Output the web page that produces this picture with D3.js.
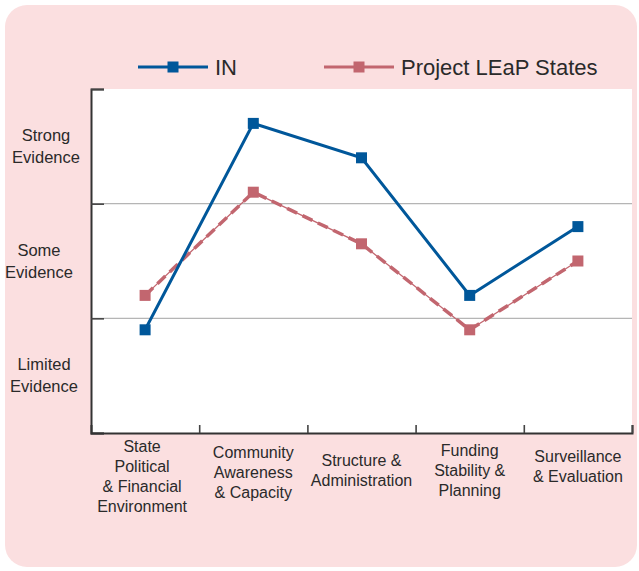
<!DOCTYPE html>
<html><head><meta charset="utf-8">
<script src="https://cdn.jsdelivr.net/npm/d3@7"></script>
<style>
html,body{margin:0;padding:0;background:#fff;}
svg text{font-family:"Liberation Sans",Arial,sans-serif;fill:#2a2a2a;}
</style></head>
<body><svg id="c" width="639" height="571"></svg>
<script>
// ---- data ----
const categories = ["State\nPolitical\n& Financial\nEnvironment","Community\nAwareness\n& Capacity","Structure &\nAdministration","Funding\nStability &\nPlanning","Surveillance\n& Evaluation"];
const inValues = [0.90, 2.70, 2.40, 1.20, 1.80];
const leapValues = [1.20, 2.10, 1.65, 0.90, 1.50];
const seriesNames = ["IN", "Project LEaP States"];
const yTickLabels = ["Limited\nEvidence", "Some\nEvidence", "Strong\nEvidence"];

// ---- layout ----
const svg = d3.select("#c");
const L = 91, R = 632, T = 89, B = 433;
const blue = "#00579a", pink = "#c2666f";

svg.append("rect").attr("x",5).attr("y",5).attr("width",632).attr("height",562)
  .attr("rx",22).attr("fill","#fbdfe0");
svg.append("rect").attr("x",L).attr("y",T).attr("width",R-L).attr("height",B-T).attr("fill","#fff");

const y = d3.scaleLinear().domain([0,3]).range([B,T]);
const x = d3.scaleBand().domain(categories).range([L,R]);
const xb = d3.scaleLinear().domain([0,categories.length]).range([L,R]);

// gridlines
svg.append("g").selectAll("line").data([1,2]).join("line")
  .attr("x1",L).attr("x2",R).attr("y1",d=>y(d)).attr("y2",d=>y(d))
  .attr("stroke","#b5b5b5").attr("stroke-width",1.2);

// axes
const ya = svg.append("g").attr("transform",`translate(${L},0)`)
  .call(d3.axisLeft(y).tickValues([0,1,2,3]).tickSize(-13).tickFormat(""));
const xa = svg.append("g").attr("transform",`translate(0,${B})`)
  .call(d3.axisBottom(xb).tickValues(d3.range(1,categories.length+1)).tickSize(-8).tickFormat(""));
[ya,xa].forEach(g=>{
  g.selectAll("path").attr("stroke","#333").attr("stroke-width",2);
  g.selectAll("line").attr("stroke","#444").attr("stroke-width",1.6);
});

// y labels
const yLabelX = [44, 39, 46];
yTickLabels.forEach((t,i)=>{
  const lines = t.split("\n");
  const cy = y(i+0.5);
  const tx = svg.append("text").attr("text-anchor","middle").attr("font-size",16.5);
  lines.forEach((ln,j)=>{
    tx.append("tspan").attr("x",yLabelX[i]).attr("y",cy + (j-(lines.length-1)/2)*22 + 5.5).text(ln);
  });
});

// x labels
categories.forEach((c,i)=>{
  const lines = c.split("\n");
  const cx = x(c)+x.bandwidth()/2;
  const tx = svg.append("text").attr("text-anchor","middle").attr("font-size",16);
  const cyMid = [476.7, 472.7, 470.7, 470.7, 466.7][i];
  lines.forEach((ln,j)=>{
    tx.append("tspan").attr("x",cx - (i===0?3:0)).attr("y",cyMid + (j-(lines.length-1)/2)*20 + 5.5).text(ln);
  });
});

const cx = (d,i)=>x(categories[i])+x.bandwidth()/2;
const line = d3.line().x(cx).y(d=>y(d));

// LEaP series: thin line + thicker dashes
svg.append("path").datum(leapValues).attr("d",line).attr("fill","none")
  .attr("stroke",pink).attr("stroke-width",1.3);
svg.append("path").datum(leapValues).attr("d",line).attr("fill","none")
  .attr("stroke",pink).attr("stroke-width",3.5).attr("stroke-dasharray","11,6");
svg.append("g").selectAll("rect").data(leapValues).join("rect")
  .attr("x",(d,i)=>cx(d,i)-5.5).attr("y",d=>y(d)-5.5).attr("width",11).attr("height",11).attr("fill",pink);

// IN series
svg.append("path").datum(inValues).attr("d",line).attr("fill","none")
  .attr("stroke",blue).attr("stroke-width",3);
svg.append("g").selectAll("rect").data(inValues).join("rect")
  .attr("x",(d,i)=>cx(d,i)-5.5).attr("y",d=>y(d)-5.5).attr("width",11).attr("height",11).attr("fill",blue);

// legend
const legend = [
  {name: seriesNames[0], color: blue, x1:138, x2:208, tx:215},
  {name: seriesNames[1], color: pink, x1:324, x2:394, tx:401}
];
const ly = 67;
legend.forEach(l=>{
  svg.append("line").attr("x1",l.x1).attr("x2",l.x2).attr("y1",ly).attr("y2",ly)
    .attr("stroke",l.color).attr("stroke-width",3);
  const m = (l.x1+l.x2)/2;
  svg.append("rect").attr("x",m-5.5).attr("y",ly-5.5).attr("width",11).attr("height",11).attr("fill",l.color);
  svg.append("text").attr("x",l.tx).attr("y",ly+8).attr("font-size",22).text(l.name);
});
</script></body></html>
